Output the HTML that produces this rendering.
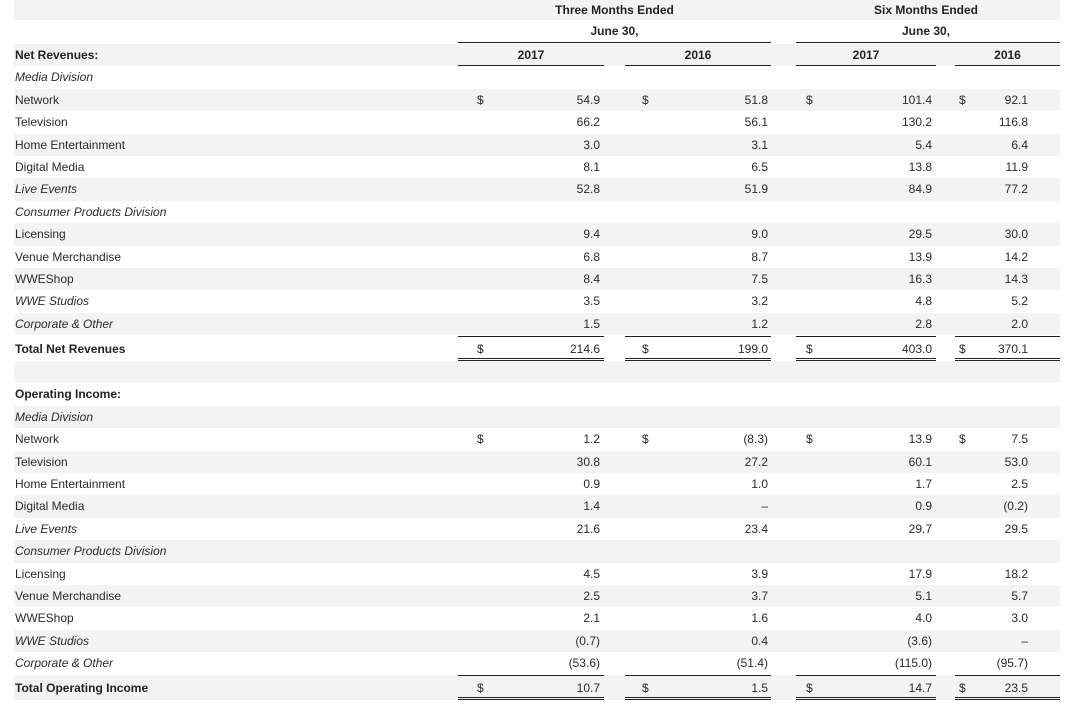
<!DOCTYPE html>
<html><head><meta charset="utf-8"><style>
body{margin:0;width:1076px;height:722px;background:#fff;position:relative;overflow:hidden;font-family:"Liberation Sans",Arial,sans-serif;font-size:12px;color:#2a2a2a}
.r{position:absolute;left:14px;width:1046px;height:22.4px;line-height:22.4px}
.g{background:#f3f3f3}
.r span{position:absolute;white-space:nowrap}
.l{left:1px}.i{font-style:italic}.b{font-weight:bold;color:#222}
.d1{left:463px}.d2{left:628px}.d3{left:792px}.d4{left:945px}
.v1{right:460px}.v2{right:292px}.v3{right:128px}.v4{right:32px}
.h{font-weight:bold;color:#222;text-align:center}
.ln{position:absolute;height:0;border-top:1.5px solid #222}
.dl{position:absolute;height:1px;border-top:1.5px solid #222;border-bottom:1.5px solid #222}
</style></head><body>
<div class="r g" style="top:0;height:20px;line-height:20px"><span class="h" style="left:444px;width:313px">Three Months Ended</span><span class="h" style="left:780px;width:264px">Six Months Ended</span></div>
<div class="r" style="top:20px;height:23px;line-height:23px"><span class="h" style="left:444px;width:313px">June 30,</span><span class="h" style="left:780px;width:264px">June 30,</span></div>
<div class="ln" style="left:458px;width:313px;top:42px"></div>
<div class="ln" style="left:796px;width:264px;top:42px"></div>
<div class="r g" style="top:43.5px"><span class="l b">Net Revenues:</span><span class="h" style="left:444px;width:146px">2017</span><span class="h" style="left:611px;width:146px">2016</span><span class="h" style="left:782px;width:140px">2017</span><span class="h" style="left:941px;width:105px">2016</span></div>
<div class="ln" style="left:458px;width:146px;top:65px"></div>
<div class="ln" style="left:625px;width:146px;top:65px"></div>
<div class="ln" style="left:796px;width:140px;top:65px"></div>
<div class="ln" style="left:955px;width:105px;top:65px"></div>

<div class="r" style="top:66.4px"><span class="l i">Media Division</span></div>
<div class="r g" style="top:88.8px"><span class="l">Network</span><span class="d1">$</span><span class="v1">54.9</span><span class="d2">$</span><span class="v2">51.8</span><span class="d3">$</span><span class="v3">101.4</span><span class="d4">$</span><span class="v4">92.1</span></div>
<div class="r" style="top:111.2px"><span class="l">Television</span><span class="v1">66.2</span><span class="v2">56.1</span><span class="v3">130.2</span><span class="v4">116.8</span></div>
<div class="r g" style="top:133.6px"><span class="l">Home Entertainment</span><span class="v1">3.0</span><span class="v2">3.1</span><span class="v3">5.4</span><span class="v4">6.4</span></div>
<div class="r" style="top:156px"><span class="l">Digital Media</span><span class="v1">8.1</span><span class="v2">6.5</span><span class="v3">13.8</span><span class="v4">11.9</span></div>
<div class="r g" style="top:178.4px"><span class="l i">Live Events</span><span class="v1">52.8</span><span class="v2">51.9</span><span class="v3">84.9</span><span class="v4">77.2</span></div>
<div class="r" style="top:200.8px"><span class="l i">Consumer Products Division</span></div>
<div class="r g" style="top:223.2px"><span class="l">Licensing</span><span class="v1">9.4</span><span class="v2">9.0</span><span class="v3">29.5</span><span class="v4">30.0</span></div>
<div class="r" style="top:245.6px"><span class="l">Venue Merchandise</span><span class="v1">6.8</span><span class="v2">8.7</span><span class="v3">13.9</span><span class="v4">14.2</span></div>
<div class="r g" style="top:268px"><span class="l">WWEShop</span><span class="v1">8.4</span><span class="v2">7.5</span><span class="v3">16.3</span><span class="v4">14.3</span></div>
<div class="r" style="top:290.4px"><span class="l i">WWE Studios</span><span class="v1">3.5</span><span class="v2">3.2</span><span class="v3">4.8</span><span class="v4">5.2</span></div>
<div class="r g" style="top:312.8px"><span class="l i">Corporate &amp; Other</span><span class="v1">1.5</span><span class="v2">1.2</span><span class="v3">2.8</span><span class="v4">2.0</span></div>
<div class="r" style="top:336px;height:25px;line-height:26px"><span class="l b">Total Net Revenues</span><span class="d1">$</span><span class="v1">214.6</span><span class="d2">$</span><span class="v2">199.0</span><span class="d3">$</span><span class="v3">403.0</span><span class="d4">$</span><span class="v4">370.1</span></div>
<div class="ln" style="left:458px;width:146px;top:336px"></div>
<div class="ln" style="left:625px;width:146px;top:336px"></div>
<div class="ln" style="left:796px;width:140px;top:336px"></div>
<div class="ln" style="left:955px;width:105px;top:336px"></div>
<div class="dl" style="left:458px;width:146px;top:358px"></div>
<div class="dl" style="left:625px;width:146px;top:358px"></div>
<div class="dl" style="left:796px;width:140px;top:358px"></div>
<div class="dl" style="left:955px;width:105px;top:358px"></div>

<div class="r g" style="top:361px"></div>
<div class="r" style="top:383.4px"><span class="l b">Operating Income:</span></div>
<div class="r g" style="top:405.8px"><span class="l i">Media Division</span></div>
<div class="r" style="top:428.2px"><span class="l">Network</span><span class="d1">$</span><span class="v1">1.2</span><span class="d2">$</span><span class="v2">(8.3)</span><span class="d3">$</span><span class="v3">13.9</span><span class="d4">$</span><span class="v4">7.5</span></div>
<div class="r g" style="top:450.6px"><span class="l">Television</span><span class="v1">30.8</span><span class="v2">27.2</span><span class="v3">60.1</span><span class="v4">53.0</span></div>
<div class="r" style="top:473px"><span class="l">Home Entertainment</span><span class="v1">0.9</span><span class="v2">1.0</span><span class="v3">1.7</span><span class="v4">2.5</span></div>
<div class="r g" style="top:495.4px"><span class="l">Digital Media</span><span class="v1">1.4</span><span class="v2">–</span><span class="v3">0.9</span><span class="v4">(0.2)</span></div>
<div class="r" style="top:517.8px"><span class="l i">Live Events</span><span class="v1">21.6</span><span class="v2">23.4</span><span class="v3">29.7</span><span class="v4">29.5</span></div>
<div class="r g" style="top:540.2px"><span class="l i">Consumer Products Division</span></div>
<div class="r" style="top:562.6px"><span class="l">Licensing</span><span class="v1">4.5</span><span class="v2">3.9</span><span class="v3">17.9</span><span class="v4">18.2</span></div>
<div class="r g" style="top:585px"><span class="l">Venue Merchandise</span><span class="v1">2.5</span><span class="v2">3.7</span><span class="v3">5.1</span><span class="v4">5.7</span></div>
<div class="r" style="top:607.4px"><span class="l">WWEShop</span><span class="v1">2.1</span><span class="v2">1.6</span><span class="v3">4.0</span><span class="v4">3.0</span></div>
<div class="r g" style="top:629.8px"><span class="l i">WWE Studios</span><span class="v1">(0.7)</span><span class="v2">0.4</span><span class="v3">(3.6)</span><span class="v4">–</span></div>
<div class="r" style="top:652.2px"><span class="l i">Corporate &amp; Other</span><span class="v1">(53.6)</span><span class="v2">(51.4)</span><span class="v3">(115.0)</span><span class="v4">(95.7)</span></div>
<div class="r g" style="top:674.6px;height:25px;line-height:26px"><span class="l b">Total Operating Income</span><span class="d1">$</span><span class="v1">10.7</span><span class="d2">$</span><span class="v2">1.5</span><span class="d3">$</span><span class="v3">14.7</span><span class="d4">$</span><span class="v4">23.5</span></div>
<div class="ln" style="left:458px;width:146px;top:675px"></div>
<div class="ln" style="left:625px;width:146px;top:675px"></div>
<div class="ln" style="left:796px;width:140px;top:675px"></div>
<div class="ln" style="left:955px;width:105px;top:675px"></div>
<div class="dl" style="left:458px;width:146px;top:697px"></div>
<div class="dl" style="left:625px;width:146px;top:697px"></div>
<div class="dl" style="left:796px;width:140px;top:697px"></div>
<div class="dl" style="left:955px;width:105px;top:697px"></div>
</body></html>
